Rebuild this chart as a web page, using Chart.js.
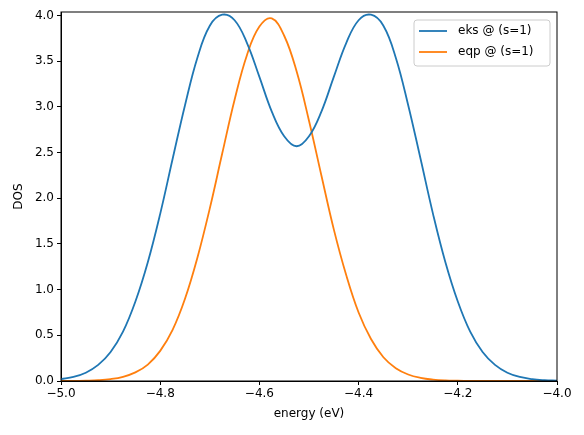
<!DOCTYPE html>
<html><head><meta charset="utf-8">
<script src="https://cdn.jsdelivr.net/npm/chart.js@4"></script>
<style>html,body{margin:0;padding:0;background:#fff}#c{display:block}</style>
</head><body>
<div style="width:584px;height:435px"><canvas id="c"></canvas></div>
<script>
const energy = [-5,-4.975,-4.95,-4.925,-4.9,-4.875,-4.85,-4.825,-4.8,-4.775,-4.75,-4.725,-4.7,-4.675,-4.65,-4.625,-4.6,-4.575,-4.55,-4.525,-4.5,-4.475,-4.45,-4.425,-4.4,-4.375,-4.35,-4.325,-4.3,-4.275,-4.25,-4.225,-4.2,-4.175,-4.15,-4.125,-4.1,-4.075,-4.05,-4.025,-4];
const eks = [0.02,0.044,0.091,0.176,0.318,0.54,0.87,1.30,1.83,2.43,3.02,3.54,3.89,4.01,3.95,3.70,3.33,2.95,2.68,2.57,2.68,2.95,3.33,3.70,3.95,4.01,3.89,3.54,3.02,2.43,1.83,1.30,0.87,0.54,0.318,0.176,0.091,0.044,0.02,0.009,0.004];
const eqp = [0.0005,0.001,0.004,0.009,0.021,0.046,0.094,0.18,0.33,0.56,0.90,1.35,1.89,2.49,3.08,3.57,3.88,3.97,3.78,3.39,2.85,2.25,1.66,1.16,0.75,0.46,0.26,0.14,0.071,0.034,0.015,0.006,0.003,0.001,0.0005,0,0,0,0,0,0];
const labels = ['eks @ (s=1)','eqp @ (s=1)'];
const colors = ['#1f77b4','#ff7f0e'];
const FONT = "'DejaVu Sans', sans-serif";
const pts = a => a.map((y,i)=>({x:energy[i],y}));
const frame = {id:'frame',afterDraw(ch){const {ctx,chartArea:a}=ch;ctx.save();ctx.strokeStyle='#000';ctx.lineWidth=1;ctx.strokeRect(a.left,a.top,a.right-a.left,a.bottom-a.top);
 const x0=414,y0=20,w=136,h=46;ctx.fillStyle='rgba(255,255,255,0.8)';ctx.strokeStyle='#ccc';ctx.beginPath();ctx.roundRect(x0,y0,w,h,3);ctx.fill();ctx.stroke();
 ctx.font='12px '+FONT;ctx.textBaseline='middle';labels.forEach((t,i)=>{const y=y0+11+i*21;ctx.strokeStyle=colors[i];ctx.lineWidth=1.8;ctx.beginPath();ctx.moveTo(419,y);ctx.lineTo(447,y);ctx.stroke();ctx.fillStyle='#000';ctx.fillText(t,458,y);});ctx.restore();}};
new Chart(document.getElementById('c'),{type:'line',
 data:{datasets:[{label:labels[0],data:pts(eks),borderColor:colors[0],borderWidth:1.8,pointRadius:0,tension:0.4},
 {label:labels[1],data:pts(eqp),borderColor:colors[1],borderWidth:1.8,pointRadius:0,tension:0.4}]},
 options:{responsive:true,maintainAspectRatio:false,animation:false,layout:{padding:{top:12,right:27,left:8,bottom:10}},
 plugins:{legend:{display:false},tooltip:{enabled:false}},
 scales:{x:{type:'linear',min:-5,max:-4,afterBuildTicks:s=>{s.ticks=[-5,-4.8,-4.6,-4.4,-4.2,-4].map(v=>({value:v}))},afterFit:s=>{s.height=44},
   ticks:{color:'#000',font:{family:FONT,size:12},maxRotation:0,padding:2,callback:v=>v.toFixed(1).replace('-','\u2212')},
   grid:{drawOnChartArea:false,tickLength:4,tickColor:'#000'},border:{color:'#000'},
   title:{display:true,text:'energy (eV)',color:'#000',font:{family:FONT,size:12},padding:{top:2}}},
  y:{min:0,max:4.04,afterBuildTicks:s=>{s.ticks=[0,0.5,1,1.5,2,2.5,3,3.5,4].map(v=>({value:v}))},afterFit:s=>{s.width=53},
   ticks:{color:'#000',font:{family:FONT,size:12},padding:3,callback:v=>v.toFixed(1)},
   grid:{drawOnChartArea:false,tickLength:4,tickColor:'#000'},border:{color:'#000'},
   title:{display:true,text:'DOS',color:'#000',font:{family:FONT,size:12},padding:{bottom:2}}}}},
 plugins:[frame]});
</script></body></html>
